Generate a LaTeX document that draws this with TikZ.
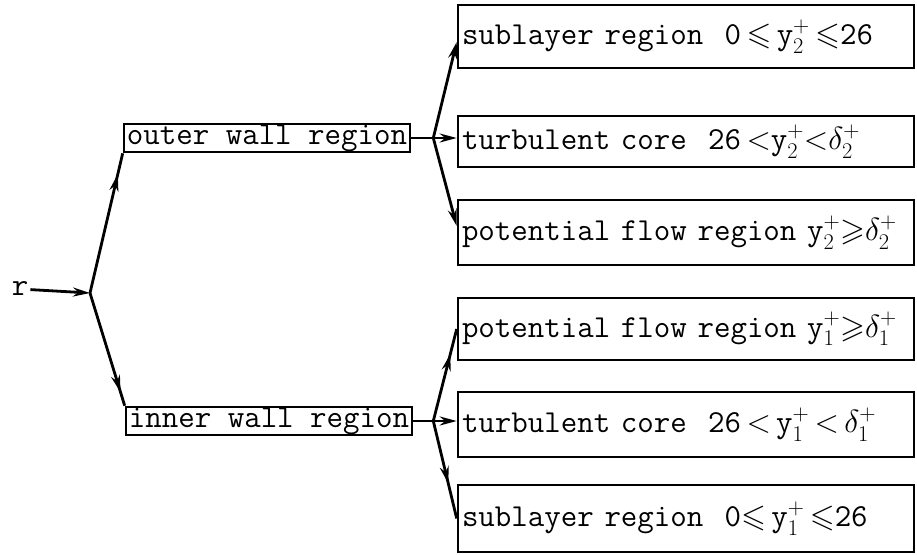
\RequirePackage{fix-cm}
\documentclass[tikz,border=0pt]{standalone}
\usepackage{amssymb}
\usetikzlibrary{arrows.meta,decorations.markings}

\newcommand{\tw}{\fontsize{32}{35}\ttfamily}

\tikzset{
  x=1pt, y=-1pt,
  conn/.style={line width=2.8pt},
  headtip/.style={-{Stealth[length=17pt,width=9pt]}},
  midtip/.style={postaction={decorate},
    decoration={markings,
      mark=at position #1 with {\arrow{Stealth[length=17pt,width=9pt]}}}},
  wallbox/.style={draw, line width=2.6pt, inner sep=0pt,
    minimum height=28pt, minimum width=286pt, font=\tw},
  zonebox/.style={draw, line width=2.6pt, inner xsep=4pt, inner ysep=0pt,
    text width=448pt, align=left, minimum height=#1, font=\tw},
}

\begin{document}
\begin{tikzpicture}
\useasboundingbox (0,0) rectangle (917,554);

% source and branch point
\node[font=\tw, inner sep=2pt] (r) at (20,289) {r};
\coordinate (br) at (90,293);

% the two wall regions
\node[wallbox] (outer) at (267,138) {outer wall region};
\node[wallbox] (inner) at (269,421) {inner wall region};

% outer wall sub-regions
\node[zonebox=63pt] (s2) at (686,36.5)
  {sublayer region~~0\,$\leqslant$\,y$^+_2$\,$\leqslant$26};
\node[zonebox=51pt] (t2) at (686,141.5)
  {turbulent core~~26\,$<$y$^+_2$$<$$\delta^+_2$};
\node[zonebox=65pt] (p2) at (686,232.5)
  {potential flow region y$^+_2$$\geqslant$$\delta^+_2$};

% inner wall sub-regions
\node[zonebox=62pt] (p1) at (686,329)
  {potential flow region y$^+_1$$\geqslant$$\delta^+_1$};
\node[zonebox=65pt] (t1) at (686,424.5)
  {turbulent core~~26\,$<$\,y$^+_1$\,$<$\,$\delta^+_1$};
\node[zonebox=67pt] (s1) at (686,518.5)
  {sublayer region~~0$\leqslant$\,y$^+_1$\,$\leqslant$26};

% branch points right of the wall boxes
\coordinate (ob) at ([xshift=22pt]outer.east);
\coordinate (ib) at ([xshift=20pt]inner.east);

% connectors
\draw[conn,headtip] (r) -- (br);
\draw[conn,midtip=0.85] (br) -- (outer.south west);
\draw[conn,midtip=0.88] (br) -- (inner.north west);

\draw[conn,headtip] (outer.east) -- (t2.west |- outer.east);
\draw[conn,headtip] (ob) -- ([yshift=-5.5pt]s2.west);
\draw[conn,headtip] (ob) -- ([yshift=6.5pt]p2.west);

\draw[conn,headtip] (inner.east) -- (t1.west |- inner.east);
\draw[conn,midtip=0.73] (ib) -- (p1.west);
\draw[conn,midtip=0.64] (ib) -- (s1.west);
\end{tikzpicture}
\end{document}
